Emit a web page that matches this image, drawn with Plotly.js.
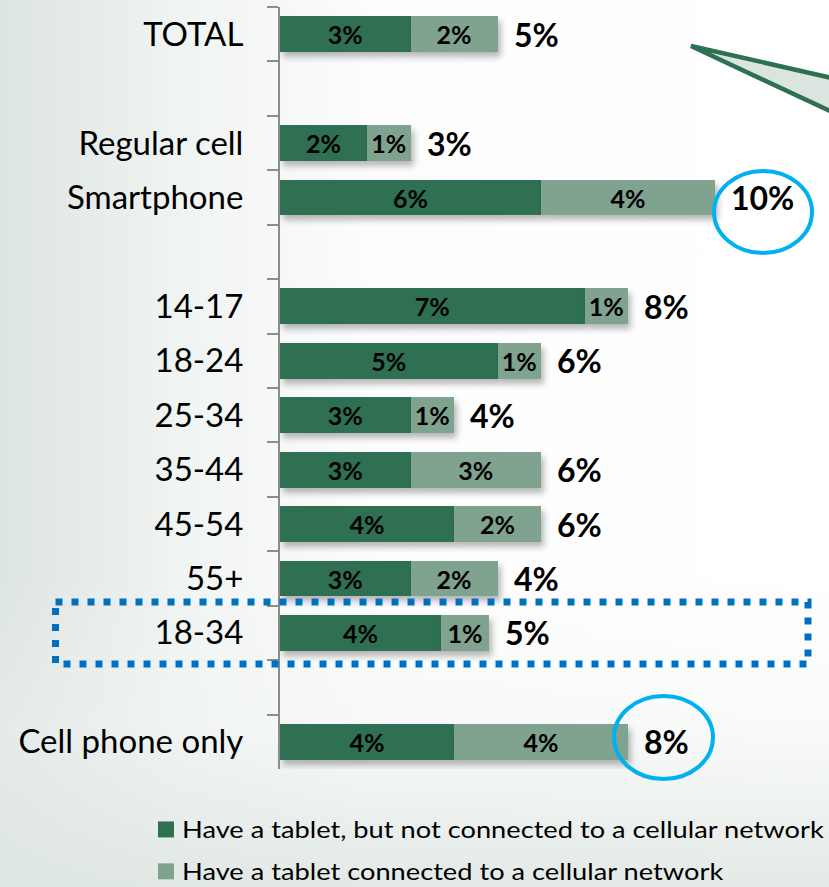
<!DOCTYPE html>
<html>
<head>
<meta charset="utf-8">
<script src="https://cdn.plot.ly/plotly-3.0.1.min.js"></script>
<style>
  html, body { margin: 0; padding: 0; }
  body {
    width: 829px; height: 887px; overflow: hidden;
    background:
      linear-gradient(to top, rgba(222,230,226,0.85) 0%, rgba(240,244,242,0.4) 18%, rgba(255,255,255,0) 35%),
      linear-gradient(to right, rgba(221,229,225,1) 0%, rgba(240,244,242,1) 22%, rgba(252,253,252,1) 45%, #ffffff 100%);
  }
  #chart { width: 829px; height: 887px; }
  .barlayer .point path { filter: drop-shadow(3px 5px 3px rgba(0,0,0,0.28)); }
  .legend .scrollbox, .legend .legendtoggle { clip-path: none !important; }
  .legend .legendpoints path { d: path("M12,8H-4V-8H12Z"); }
  .legend text.legendtext {
    transform-box: fill-box; transform-origin: left center; transform: scaleX(1.185);
  }
</style>
</head>
<body>
<div id="chart"></div>
<script>
// ---- data ----
const categories = ['TOTAL', ' ', 'Regular cell', 'Smartphone', '  ', '14-17', '18-24', '25-34',
                    '35-44', '45-54', '55+', '18-34', '   ', 'Cell phone only'];
const notConnected = [3, null, 2, 6, null, 7, 5, 3, 3, 4, 3, 3.7, null, 4];
const connected    = [2, null, 1, 4, null, 1, 1, 1, 3, 2, 2, 1.1, null, 4];
const notConnectedLabels = ['3%', '', '2%', '6%', '', '7%', '5%', '3%', '3%', '4%', '3%', '4%', '', '4%'];
const connectedLabels    = ['2%', '', '1%', '4%', '', '1%', '1%', '1%', '3%', '2%', '2%', '1%', '', '4%'];
const totalLabels        = ['5%', '', '3%', '10%', '', '8%', '6%', '4%', '6%', '6%', '4%', '5%', '', '8%'];
const seriesNames = ['Have a tablet, but not connected to a cellular network',
                     'Have a tablet connected to a cellular network'];

// ---- layout geometry (pixels) ----
const W = 829, H = 887;
const M = {l: 280, r: 27, t: 7, b: 118};
const PW = W - M.l - M.r, PH = H - M.t - M.b;
const px = x => (x - M.l) / PW;
const py = y => 1 - (y - M.t) / PH;

const FONT = 'Lato, "Open Sans", sans-serif';
const DARK = '#2f7052';
const LIGHT = '#80a390';

const traces = [
  {
    type: 'bar', orientation: 'h', name: seriesNames[0], legendgroup: 'a',
    y: categories, x: notConnected, text: notConnectedLabels,
    textposition: 'inside', insidetextanchor: 'middle', constraintext: 'none',
    textangle: 0, cliponaxis: false,
    textfont: {family: FONT, size: 25, color: '#000', weight: 'bold'},
    marker: {color: DARK, line: {width: 0}}, width: 0.66, hoverinfo: 'skip'
  },
  {
    type: 'bar', orientation: 'h', name: seriesNames[1], legendgroup: 'b',
    y: categories, x: connected, text: connectedLabels,
    textposition: 'inside', insidetextanchor: 'middle', constraintext: 'none',
    textangle: 0, cliponaxis: false,
    textfont: {family: FONT, size: 25, color: '#000', weight: 'bold'},
    marker: {color: LIGHT, line: {width: 0}}, width: 0.66, hoverinfo: 'skip'
  }
];

const annotations = [];
categories.forEach((c, i) => {
  if (!totalLabels[i]) return;
  annotations.push({
    x: notConnected[i] + connected[i], y: c, xref: 'x', yref: 'y',
    text: '<b>' + totalLabels[i] + '</b>', showarrow: false,
    xanchor: 'left', yanchor: 'middle', xshift: 14,
    font: {family: FONT, size: 32, color: '#000'}
  });
});

const shapes = [
  // callout pointer (top right)
  {type: 'path', xref: 'paper', yref: 'paper',
   path: `M${px(691)},${py(46)} L${px(832)},${py(78)} L${px(832)},${py(112)} Z`,
   fillcolor: '#dbe5e0', line: {width: 0}, layer: 'below'},
  {type: 'path', xref: 'paper', yref: 'paper',
   path: `M${px(832)},${py(78)} L${px(691)},${py(46)} L${px(832)},${py(112)}`,
   line: {color: DARK, width: 4.5}},
  // highlight circles
  {type: 'circle', xref: 'paper', yref: 'paper',
   x0: px(714), x1: px(812), y0: py(171), y1: py(253),
   line: {color: '#00b0f0', width: 4}},
  {type: 'circle', xref: 'paper', yref: 'paper',
   x0: px(614), x1: px(713), y0: py(696), y1: py(779),
   line: {color: '#00b0f0', width: 4}},
  // dotted highlight box
  {type: 'rect', xref: 'paper', yref: 'paper',
   x0: px(55.5), x1: px(808), y0: py(602), y1: py(664),
   line: {color: '#0070c0', width: 7, dash: '7px,9px'}}
];

const layout = {
  width: W, height: H,
  margin: Object.assign({autoexpand: false}, M),
  paper_bgcolor: 'rgba(0,0,0,0)', plot_bgcolor: 'rgba(0,0,0,0)',
  barmode: 'stack',
  font: {family: FONT, color: '#000'},
  showlegend: true,
  legend: {
    orientation: 'v', traceorder: 'grouped', tracegroupgap: 9,
    xref: 'container', yref: 'container',
    x: 142 / W, y: 1 - 808 / H, xanchor: 'left', yanchor: 'top',
    font: {family: FONT, size: 23, color: '#000'},
    bgcolor: 'rgba(0,0,0,0)'
  },
  xaxis: {
    range: [0, 12], showgrid: false, zeroline: false, showline: false,
    showticklabels: false, ticks: '', fixedrange: true
  },
  yaxis: {
    type: 'category', categoryorder: 'array', categoryarray: categories,
    autorange: 'reversed', showgrid: false, zeroline: false, automargin: false,
    showline: true, linecolor: '#8c8c8c', linewidth: 2,
    ticks: 'outside', tickson: 'boundaries', ticklen: 11, tickwidth: 2, tickcolor: '#8c8c8c',
    ticklabelstandoff: 28,
    tickfont: {family: FONT, size: 33, color: '#000'}, fixedrange: true
  },
  annotations: annotations,
  shapes: shapes
};

Plotly.newPlot('chart', traces, layout, {displayModeBar: false, staticPlot: true});
</script>
</body>
</html>
